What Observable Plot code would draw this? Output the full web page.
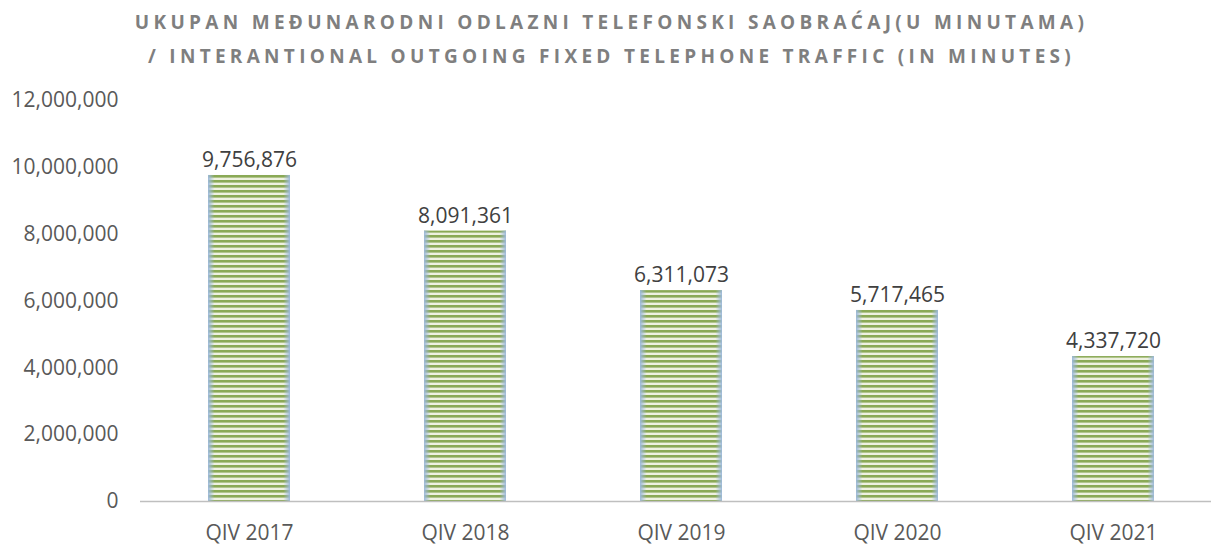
<!DOCTYPE html>
<html>
<head>
<meta charset="utf-8">
<script src="https://cdn.jsdelivr.net/npm/d3@7"></script>
<script src="https://cdn.jsdelivr.net/npm/@observablehq/plot@0.6"></script>
<style>
  html, body { margin: 0; padding: 0; background: #fff; overflow: hidden; }
  #title { height: 80px; box-sizing: border-box; padding-top: 5px; text-align: center;
    font-family: "Open Sans", sans-serif; font-weight: bold; font-size: 19px; color: #7f7f7f;
    letter-spacing: 4.3px; line-height: 34px; padding-left: 12px; white-space: nowrap; }
  svg { display: block; }
</style>
</head>
<body>
<div id="title">UKUPAN MEĐUNARODNI ODLAZNI TELEFONSKI SAOBRAĆAJ(U MINUTAMA)<br>/ INTERANTIONAL OUTGOING FIXED TELEPHONE TRAFFIC (IN MINUTES)</div>
<div id="chart"></div>
<script>
const categories = ["QIV 2017", "QIV 2018", "QIV 2019", "QIV 2020", "QIV 2021"];
const values = [9756876, 8091361, 6311073, 5717465, 4337720];
const yTicks = [0, 2000000, 4000000, 6000000, 8000000, 10000000, 12000000];

const data = categories.map((c, i) => ({cat: c, value: values[i]}));
const fmt = d3.format(",");

const chart = Plot.plot({
  width: 1211,
  height: 467,
  marginTop: 20,
  marginBottom: 46,
  marginLeft: 140,
  marginRight: 0,
  style: {fontFamily: "Open Sans, sans-serif", fontSize: "21px", color: "#595959", background: "#fff", overflow: "hidden"},
  x: {domain: categories, range: [141, 1222], paddingInner: 0.62, paddingOuter: 0.31, label: null, tickSize: 0, tickPadding: 24},
  y: {domain: [0, 12000000], ticks: yTicks, tickFormat: fmt, label: null, tickSize: 0, tickPadding: 22},
  marks: [
    Plot.barY(data, {x: "cat", y: "value", fill: "url(#stripes)"}),
    Plot.barY(data, {x: "cat", y: "value", fill: "url(#edges)"}),
    Plot.ruleY([0], {stroke: "#bfbfbf", strokeWidth: 1.5}),
    Plot.text(data, {x: "cat", y: "value", text: d => fmt(d.value), dy: -15, fill: "#404040", fontSize: 21})
  ]
});

const ns = "http://www.w3.org/2000/svg";
const defs = document.createElementNS(ns, "defs");
defs.innerHTML = `
  <pattern id="stripes" patternUnits="userSpaceOnUse" x="0" y="0" width="10" height="5">
    <rect width="10" height="5" fill="#eef1e0"/>
    <rect y="0" width="10" height="2.6" fill="#8aa955"/>
  </pattern>
  <linearGradient id="edges" x1="0" x2="1" y1="0" y2="0">
    <stop offset="0" stop-color="#9db9d9" stop-opacity="1"/>
    <stop offset="0.08" stop-color="#9db9d9" stop-opacity="0"/>
    <stop offset="0.92" stop-color="#9db9d9" stop-opacity="0"/>
    <stop offset="1" stop-color="#9db9d9" stop-opacity="1"/>
  </linearGradient>`;
chart.insertBefore(defs, chart.firstChild);
document.getElementById("chart").appendChild(chart);
</script>
</body>
</html>
